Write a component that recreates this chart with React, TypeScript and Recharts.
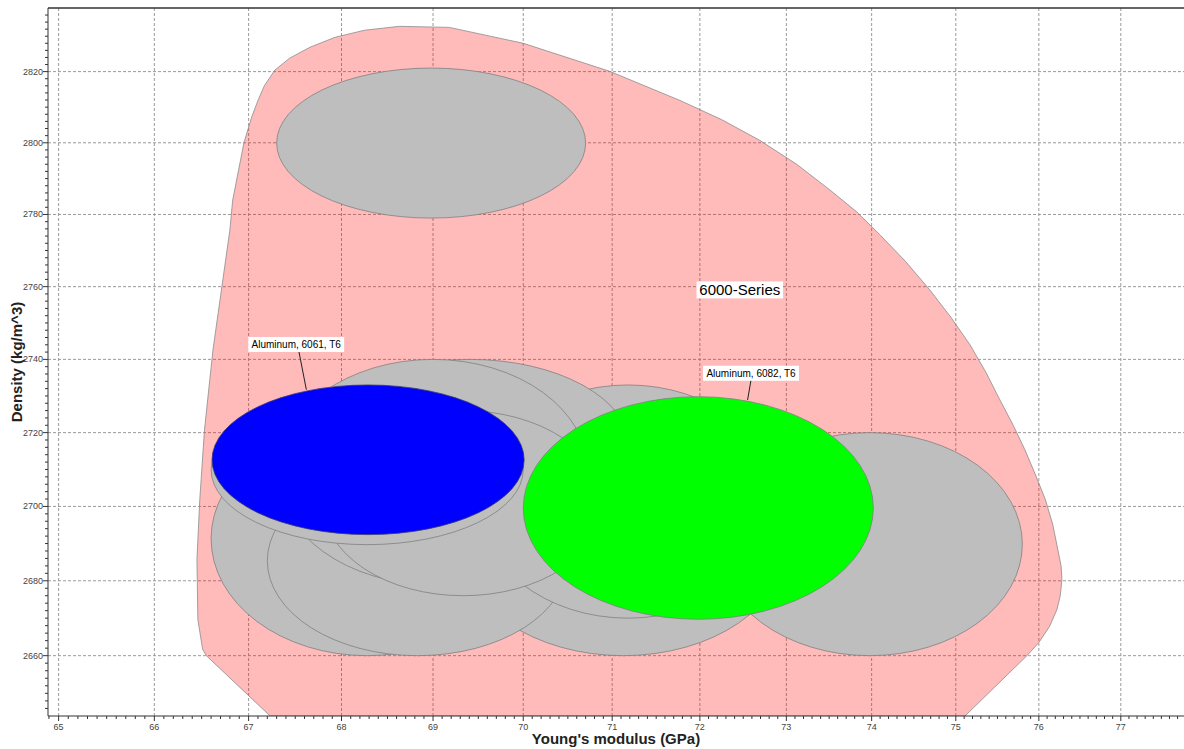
import React from 'react';
import {
  ComposedChart,
  XAxis,
  YAxis,
  CartesianGrid,
  Scatter,
  ReferenceArea,
  ReferenceLine,
  ReferenceDot,
} from 'recharts';

const FONT = '"Liberation Sans", Arial, Helvetica, sans-serif';

// ---- axes ----
const X_DOMAIN: [number, number] = [64.89, 77.78];
const Y_DOMAIN: [number, number] = [2644, 2838];
const X_MAJOR = [65, 66, 67, 68, 69, 70, 71, 72, 73, 74, 75, 76, 77];
const Y_MAJOR = [2660, 2680, 2700, 2720, 2740, 2760, 2780, 2800, 2820];
const X_MINOR_STEP = 0.1;
const Y_MINOR_STEP = 2;
const X_TITLE = "Young's modulus (GPa)";
const Y_TITLE = 'Density (kg/m^3)';

// ---- 6000-series envelope (Young's modulus GPa, density kg/m^3) ----
const HULL: [number, number][] = [
  [67.1, 2811.9], [67.17, 2816.1], [67.28, 2820.4], [67.44, 2823.8], [67.66, 2826.9],
  [67.93, 2829.7], [68.25, 2831.7], [68.63, 2832.8], [69.18, 2832.5], [70.0, 2828.0],
  [70.97, 2820.1], [71.77, 2811.9], [72.25, 2806.5], [72.69, 2800.7], [73.12, 2794.0],
  [73.51, 2786.8], [73.82, 2780.8], [74.1, 2774.3], [74.4, 2767.0], [74.69, 2759.1],
  [74.94, 2751.6], [75.17, 2744.0], [75.36, 2736.5], [75.53, 2728.9], [75.69, 2722.0],
  [75.83, 2715.4], [75.96, 2708.5], [76.08, 2701.8], [76.17, 2695.0], [76.23, 2688.4],
  [76.27, 2684.0], [76.28, 2680.3], [76.26, 2676.0], [76.22, 2672.3], [76.13, 2667.8],
  [76.0, 2663.5], [75.86, 2660.1], [75.11, 2644], [67.23, 2644], [66.55, 2660],
  [66.51, 2661.7], [66.46, 2669.6], [66.45, 2685.7], [66.48, 2701.8], [66.53, 2720.8],
  [66.62, 2742.6], [66.71, 2759.1], [66.8, 2775.7], [66.83, 2784.0], [66.95, 2800],
  [67.03, 2807.0], [67.1, 2811.9],
];

// ---- material ranges: [E min, E max, rho min, rho max] ----
const GRAY_MATERIALS: [number, number, number, number][] = [
  [67.3, 70.7, 2779, 2821],
  [72.2, 75.8, 2660, 2720],
  [69.3, 73.0, 2660, 2720],
  [66.6, 70.0, 2660, 2723],
  [67.2, 70.5, 2660, 2711],
  [69.5, 72.9, 2670, 2733],
  [67.66, 71.2, 2692, 2740],
  [67.31, 70.73, 2679, 2740],
  [67.8, 70.9, 2676, 2726],
  [66.6, 70.0, 2689.7, 2730.3],
];
const AL_6061_T6: [number, number, number, number] = [66.61, 70.01, 2692.4, 2733.0];
const AL_6082_T6: [number, number, number, number] = [70.0, 74.02, 2669.7, 2729.8];

// ---- annotations ----
const LABELS = [
  { text: 'Aluminum, 6061, T6', x: 67.51, y: 2744.1, big: false },
  { text: 'Aluminum, 6082, T6', x: 72.59, y: 2736.2, big: false },
  { text: '6000-Series', x: 72.46, y: 2759.1, big: true },
];
const LEADERS: [number, number, number, number][] = [
  [67.54, 2742.1, 67.62, 2731.7],
  [72.59, 2734.4, 72.55, 2728.9],
];

const X_TICKS: number[] = [];
for (let i = Math.ceil(X_DOMAIN[0] / X_MINOR_STEP); i * X_MINOR_STEP <= X_DOMAIN[1]; i++) {
  X_TICKS.push(Math.round(i * X_MINOR_STEP * 10) / 10);
}
const Y_TICKS: number[] = [];
for (let i = Math.floor(Y_DOMAIN[0] / Y_MINOR_STEP) + 1; i * Y_MINOR_STEP < Y_DOMAIN[1]; i++) {
  Y_TICKS.push(i * Y_MINOR_STEP);
}

const hullData = HULL.map(([x, y]) => ({ x, y }));

const isMajorX = (v: number) => X_MAJOR.some((m) => Math.abs(m - v) < 1e-6);
const isMajorY = (v: number) => Y_MAJOR.some((m) => Math.abs(m - v) < 1e-6);

const XTick = (props: any) => {
  const { x, y, payload } = props;
  const v = payload.value;
  const major = isMajorX(v);
  return (
    <g>
      <line x1={x} x2={x} y1={y} y2={y + (major ? 5 : 3)} stroke="#333" strokeWidth={1} />
      {major && (
        <text x={x} y={y + 14} textAnchor="middle" fontSize={9} fontFamily={FONT} fill="#444">
          {Math.round(v)}
        </text>
      )}
    </g>
  );
};

const YTick = (props: any) => {
  const { x, y, payload } = props;
  const v = payload.value;
  const major = isMajorY(v);
  return (
    <g>
      <line x1={x - (major ? 5 : 3)} x2={x} y1={y} y2={y} stroke="#333" strokeWidth={1} />
      {major && (
        <text x={x - 5} y={y + 3} textAnchor="end" fontSize={9} fontFamily={FONT} fill="#444">
          {v}
        </text>
      )}
    </g>
  );
};

const ellipseShape = (fill: string, stroke: string) => (p: any) => {
  const x = Math.min(p.x, p.x + p.width);
  const y = Math.min(p.y, p.y + p.height);
  const w = Math.abs(p.width);
  const h = Math.abs(p.height);
  return (
    <ellipse
      cx={x + w / 2}
      cy={y + h / 2}
      rx={w / 2}
      ry={h / 2}
      fill={fill}
      stroke={stroke}
      strokeWidth={0.8}
    />
  );
};

const labelShape = (text: string, big: boolean) => (p: any) => {
  const fs = big ? 15 : 10;
  const w = text.length * fs * 0.5 + (big ? 4 : 6);
  const h = big ? 17 : 15;
  return (
    <g>
      <rect x={p.cx - w / 2} y={p.cy - h / 2} width={w} height={h} fill="#fff" />
      <text
        x={p.cx}
        y={p.cy + fs * 0.36}
        textAnchor="middle"
        fontSize={fs}
        fontFamily={FONT}
        fill="#000"
      >
        {text}
      </text>
    </g>
  );
};

const emptyShape = () => <g />;

export default function App() {
  return (
    <div style={{ position: 'absolute', left: 0, top: 0, width: 1184, height: 749, background: '#fff' }}>
      <ComposedChart width={1184} height={749} margin={{ top: 8, right: 0, bottom: 0, left: 0 }}>
        <CartesianGrid
          stroke="#9a9a9a"
          strokeDasharray="3 2"
          horizontalValues={Y_MAJOR}
          verticalValues={X_MAJOR}
        />
        <XAxis
          type="number"
          dataKey="x"
          scale="log"
          domain={X_DOMAIN}
          allowDataOverflow
          ticks={X_TICKS}
          interval={0}
          tickLine={false}
          tickSize={0}
          tickMargin={0}
          tick={XTick}
          height={33}
          axisLine={{ stroke: '#333' }}
          label={{
            content: (lp: any) => {
              const vb = lp.viewBox || { x: 48, y: 716, width: 1136, height: 33 };
              return (
                <text
                  x={vb.x + vb.width / 2}
                  y={vb.y + 28}
                  textAnchor="middle"
                  fontSize={15}
                  fontWeight="bold"
                  fontFamily={FONT}
                  fill="#222"
                >
                  {X_TITLE}
                </text>
              );
            },
          }}
        />
        <YAxis
          type="number"
          dataKey="y"
          scale="log"
          domain={Y_DOMAIN}
          allowDataOverflow
          ticks={Y_TICKS}
          interval={0}
          tickLine={false}
          tickSize={0}
          tickMargin={0}
          tick={YTick}
          width={48}
          axisLine={{ stroke: '#333' }}
          label={{
            content: (lp: any) => {
              const vb = lp.viewBox || { x: 0, y: 8, width: 48, height: 708 };
              const cx = vb.x + 22;
              const cy = vb.y + vb.height / 2;
              return (
                <text
                  x={cx}
                  y={cy}
                  transform={`rotate(-90 ${cx} ${cy})`}
                  textAnchor="middle"
                  fontSize={15}
                  fontWeight="bold"
                  fontFamily={FONT}
                  fill="#222"
                >
                  {Y_TITLE}
                </text>
              );
            },
          }}
        />
        <ReferenceLine y={Y_DOMAIN[1]} stroke="#333" strokeWidth={1.5} ifOverflow="visible" />
        <Scatter
          data={hullData}
          isAnimationActive={false}
          shape={emptyShape}
          zIndex={50}
          line={{ stroke: '#8c8c8c', strokeWidth: 0.8, fill: '#ff0000', fillOpacity: 0.27 }}
          lineJointType="linear"
          legendType="none"
        />
        {GRAY_MATERIALS.map((m, i) => (
          <ReferenceArea
            key={'g' + i}
            x1={m[0]}
            x2={m[1]}
            y1={m[2]}
            y2={m[3]}
            zIndex={100}
            shape={ellipseShape('#bebebe', '#808080')}
          />
        ))}
        <ReferenceArea
          x1={AL_6061_T6[0]}
          x2={AL_6061_T6[1]}
          y1={AL_6061_T6[2]}
          y2={AL_6061_T6[3]}
          zIndex={100}
          shape={ellipseShape('#0000ff', '#3a3a6a')}
        />
        <ReferenceArea
          x1={AL_6082_T6[0]}
          x2={AL_6082_T6[1]}
          y1={AL_6082_T6[2]}
          y2={AL_6082_T6[3]}
          zIndex={100}
          shape={ellipseShape('#00ff00', '#808080')}
        />
        {LEADERS.map((s, i) => (
          <ReferenceLine
            key={'l' + i}
            segment={[
              { x: s[0], y: s[1] },
              { x: s[2], y: s[3] },
            ]}
            stroke="#222"
            strokeWidth={1}
            zIndex={400}
          />
        ))}
        {LABELS.map((l, i) => (
          <ReferenceDot
            key={'t' + i}
            x={l.x}
            y={l.y}
            r={1}
            zIndex={600}
            shape={labelShape(l.text, l.big)}
          />
        ))}
      </ComposedChart>
    </div>
  );
}
